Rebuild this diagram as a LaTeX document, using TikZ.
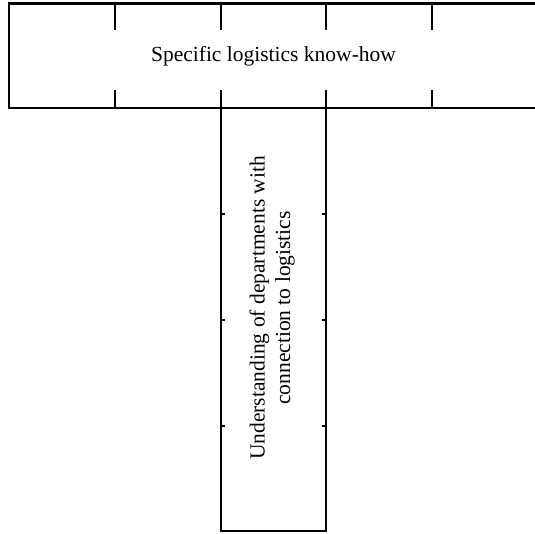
\documentclass[tikz,border=0pt]{standalone}
\usepackage{fontspec}
\setmainfont{Liberation Serif}
\usetikzlibrary{positioning}

\tikzset{
  frame/.style={line width=2.6pt},
  tick/.style={line width=2.6pt},
  label/.style={font=\fontsize{21.5}{25.5}\selectfont, inner sep=0pt}
}

\begin{document}
\begin{tikzpicture}[x=1pt, y=-1pt]
  \useasboundingbox (0,0) rectangle (535,534);
  % horizontal bar (open to the right)
  \draw[frame] (535,3.5) -- (9,3.5) -- (9,108) -- (535,108);
  \foreach \x in {115,221,326,432} {
    \draw[tick] (\x,3.5) -- (\x,30);
    \draw[tick] (\x,90) -- (\x,108);
  }
  \node[label] (knowhow) at (273.5,56) {Specific logistics know-how};
  % vertical bar
  \draw[frame] (221,108) rectangle (326,531);
  \foreach \y in {214,320,426} {
    \draw[tick] (221,\y) -- (225,\y);
    \draw[tick] (322,\y) -- (326,\y);
  }
  \node[label, rotate=90, align=center] (departments) at (272,308)
    {Understanding of departments with\\connection to logistics};
\end{tikzpicture}
\end{document}
